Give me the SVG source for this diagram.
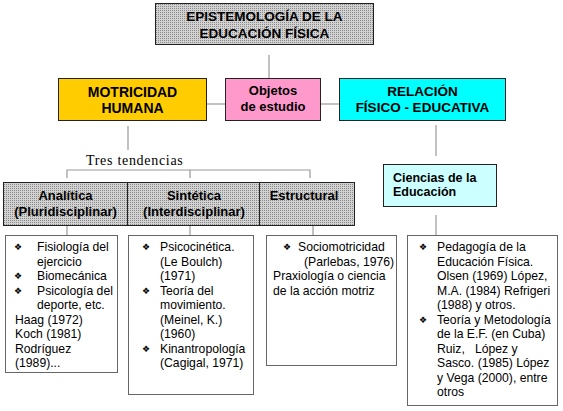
<svg xmlns="http://www.w3.org/2000/svg" width="563" height="411" viewBox="0 0 563 411">
<defs>
<pattern id="dots" width="2" height="2" patternUnits="userSpaceOnUse">
<rect width="2" height="2" fill="#d2d2d2"/>
<rect width="1" height="1" fill="#8a8a8a"/>
</pattern>
</defs>
<style>
.h{font-family:"Liberation Sans",Arial,sans-serif;font-weight:bold;fill:#000;text-anchor:middle}
.hs{font-family:"Liberation Sans",Arial,sans-serif;font-weight:bold;fill:#000;text-anchor:start}
.t{font-family:"Liberation Sans",Arial,sans-serif;font-size:12.2px;fill:#000}
.b{font-family:"DejaVu Sans",sans-serif;font-size:9px;fill:#000;text-anchor:middle}
.gray{fill:url(#dots);stroke:#222;stroke-width:1}
.cont{fill:#fff;stroke:#666;stroke-width:1}
.con{stroke:#999;stroke-width:1.2;fill:none}
</style>
<rect width="563" height="411" fill="#fff"/>
<g id="connectors">
<line class="con" x1="269" y1="55" x2="269" y2="78"/>
<line class="con" x1="207" y1="104" x2="225" y2="104" stroke-width="2"/>
<line class="con" x1="321" y1="104" x2="339" y2="104" stroke-width="2"/>
<line class="con" x1="128" y1="126" x2="128" y2="150"/>
<path class="con" d="M67,178V170H310V178M190,170V178"/>
<text x="86" y="165" font-family="Liberation Serif,serif" font-size="14" letter-spacing="0.7" fill="#000">Tres tendencias</text>
<line class="con" x1="67" y1="226" x2="67" y2="235"/>
<line class="con" x1="190" y1="226" x2="190" y2="235"/>
<line class="con" x1="313" y1="226" x2="313" y2="235"/>
<line class="con" x1="436" y1="125" x2="436" y2="156"/>
<line class="con" x1="436" y1="215" x2="436" y2="235"/>
</g>
<g id="epistemologia">
<rect class="gray" x="155.5" y="3.5" width="218" height="41"/>
<text class="h" x="264.5" y="21" font-size="13.5">EPISTEMOLOGÍA DE LA</text>
<text class="h" x="264.5" y="38" font-size="13.5">EDUCACIÓN FÍSICA</text>
</g>
<g id="motricidad">
<rect x="58.5" y="78.5" width="148" height="42" fill="#ffcc00" stroke="#222"/>
<text class="h" x="132.5" y="97" font-size="14">MOTRICIDAD</text>
<text class="h" x="132.5" y="113" font-size="14">HUMANA</text>
</g>
<g id="objetos">
<rect x="225.5" y="78.5" width="95" height="42" fill="#ff99cc" stroke="#222"/>
<text class="h" x="273" y="95" font-size="13">Objetos</text>
<text class="h" x="273" y="111" font-size="13">de estudio</text>
</g>
<g id="relacion">
<rect x="339.5" y="78.5" width="166" height="42" fill="#00ffff" stroke="#222"/>
<text class="h" x="422.5" y="96" font-size="13.5">RELACIÓN</text>
<text class="h" x="422.5" y="112" font-size="13.5">FÍSICO - EDUCATIVA</text>
</g>
<g id="analitica">
<rect class="gray" x="3.5" y="182.5" width="124" height="43"/>
<text class="h" x="65.5" y="200" font-size="13">Analítica</text>
<text class="h" x="65.5" y="216" font-size="13">(Pluridisciplinar)</text>
</g>
<g id="sintetica">
<rect class="gray" x="127.5" y="182.5" width="132" height="43"/>
<text class="h" x="194" y="200" font-size="13">Sintética</text>
<text class="h" x="194" y="216" font-size="13">(Interdisciplinar)</text>
</g>
<g id="estructural">
<rect class="gray" x="259.5" y="182.5" width="95" height="43"/>
<text class="h" x="304" y="200" font-size="13">Estructural</text>
</g>
<g id="ciencias">
<rect x="383.5" y="164.5" width="113" height="42" fill="#ccffff" stroke="#222"/>
<text class="hs" x="393" y="182" font-size="12.5">Ciencias de la</text>
<text class="hs" x="393" y="196" font-size="12.5">Educación</text>
</g>
<g id="analitica-contenido">
<rect class="cont" x="5.5" y="235.5" width="112" height="137"/>
<text class="b" x="18" y="250">❖</text>
<text class="t" x="37" y="251">Fisiología del</text>
<text class="t" x="37" y="265.5">ejercicio</text>
<text class="b" x="18" y="279">❖</text>
<text class="t" x="37" y="280">Biomecánica</text>
<text class="b" x="18" y="293.5">❖</text>
<text class="t" x="37" y="294.5">Psicología del</text>
<text class="t" x="37" y="309">deporte, etc.</text>
<text class="t" x="15" y="323.5">Haag (1972)</text>
<text class="t" x="15" y="338">Koch (1981)</text>
<text class="t" x="15" y="352.5">Rodríguez</text>
<text class="t" x="15" y="367">(1989)...</text>
</g>
<g id="sintetica-contenido">
<rect class="cont" x="128.5" y="235.5" width="125" height="159"/>
<text class="b" x="146" y="250">❖</text>
<text class="t" x="160" y="251">Psicocinética.</text>
<text class="t" x="160" y="265.5">(Le Boulch)</text>
<text class="t" x="160" y="280">(1971)</text>
<text class="b" x="146" y="293.5">❖</text>
<text class="t" x="160" y="294.5">Teoría del</text>
<text class="t" x="160" y="309">movimiento.</text>
<text class="t" x="160" y="323.5">(Meinel, K.)</text>
<text class="t" x="160" y="338">(1960)</text>
<text class="b" x="146" y="351.5">❖</text>
<text class="t" x="160" y="352.5">Kinantropología</text>
<text class="t" x="160" y="367">(Cagigal, 1971)</text>
</g>
<g id="estructural-contenido">
<rect class="cont" x="266.5" y="235.5" width="130" height="130"/>
<text class="b" x="287" y="250">❖</text>
<text class="t" x="298" y="251">Sociomotricidad</text>
<text class="t" x="304" y="265.5">(Parlebas, 1976)</text>
<text class="t" x="273" y="280">Praxiología o ciencia</text>
<text class="t" x="273" y="294.5">de la acción motriz</text>
</g>
<g id="ciencias-contenido">
<rect class="cont" x="407.5" y="235.5" width="150" height="170"/>
<text class="b" x="423" y="250">❖</text>
<text class="t" x="437" y="251">Pedagogía de la</text>
<text class="t" x="437" y="265.5">Educación Física.</text>
<text class="t" x="437" y="280">Olsen (1969) López,</text>
<text class="t" x="437" y="294.5">M.A. (1984) Refrigeri</text>
<text class="t" x="437" y="309">(1988) y otros.</text>
<text class="b" x="423" y="322.5">❖</text>
<text class="t" x="437" y="323.5">Teoría y Metodología</text>
<text class="t" x="437" y="338">de la E.F. (en Cuba)</text>
<text class="t" x="437" y="352.5" xml:space="preserve">Ruiz,   López y</text>
<text class="t" x="437" y="367">Sasco. (1985) López</text>
<text class="t" x="437" y="381.5">y Vega (2000), entre</text>
<text class="t" x="437" y="396">otros</text>
</g>
</svg>
